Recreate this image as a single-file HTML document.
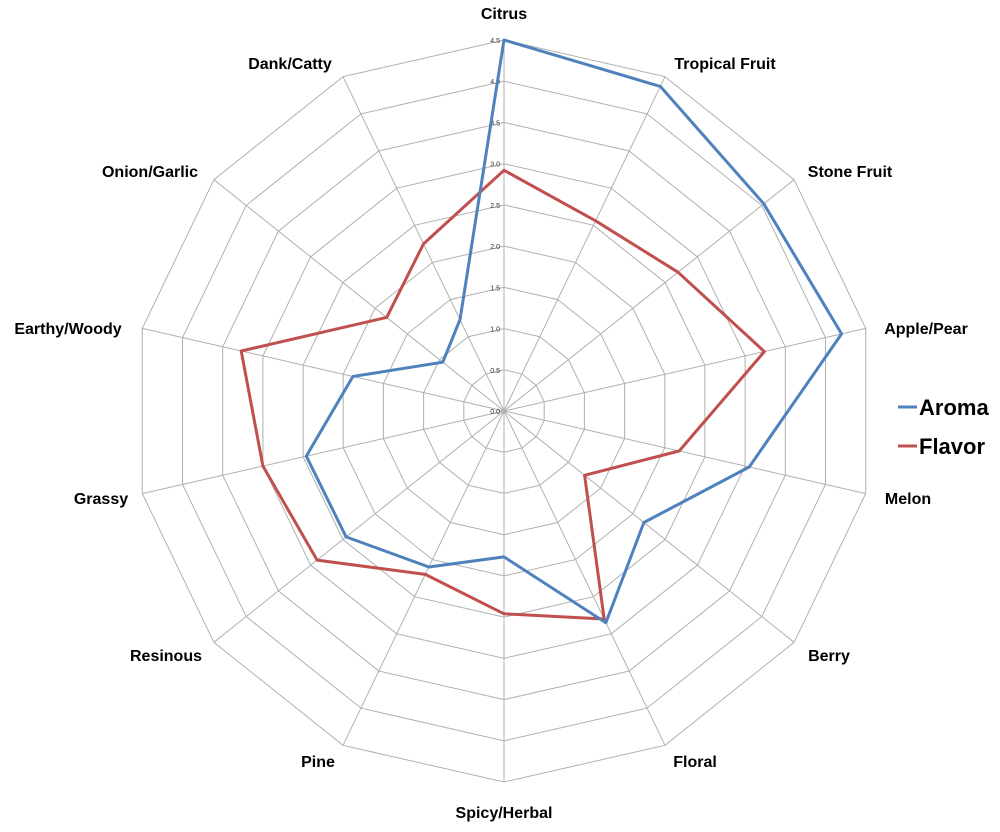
<!DOCTYPE html>
<html><head><meta charset="utf-8"><style>
html,body{margin:0;padding:0;background:#fff;}
svg{display:block;}
text{font-family:"Liberation Sans",sans-serif;}
</style></head><body>
<svg id="c" width="1000" height="832" viewBox="0 0 1000 832" xmlns="http://www.w3.org/2000/svg"></svg>
<script>
const cats=["Citrus","Tropical Fruit","Stone Fruit","Apple/Pear","Melon","Berry","Floral","Spicy/Herbal","Pine","Resinous","Grassy","Earthy/Woody","Onion/Garlic","Dank/Catty"];
const aroma=[4.5,4.37,4.03,4.2,3.05,2.17,2.85,1.77,2.1,2.45,2.46,1.88,0.95,1.23];
const flavor=[2.92,2.56,2.7,3.24,2.18,1.25,2.8,2.46,2.2,2.9,3.0,3.27,1.82,2.25];
const cx=504,cy=411,R=371,max=4.5,n=14;
const svg=document.getElementById('c');
let h='';
function pt(i,v){const a=i*2*Math.PI/n;const r=v/max*R;return [cx+r*Math.sin(a),cy-r*Math.cos(a)];}
for(let k=1;k<=9;k++){const v=k*0.5;let p=[];for(let i=0;i<n;i++)p.push(pt(i,v).map(x=>x.toFixed(1)).join(','));
h+=`<polygon points="${p.join(' ')}" fill="none" stroke="#b0b0b0" stroke-width="1"/>`;}
for(let i=0;i<n;i++){const p=pt(i,max);h+=`<line x1="${cx}" y1="${cy}" x2="${p[0].toFixed(1)}" y2="${p[1].toFixed(1)}" stroke="#b0b0b0" stroke-width="1"/>`;}
for(let k=0;k<=9;k++){const v=k*0.5;h+=`<text x="${cx-4}" y="${cy-v/max*R+3}" font-size="7" text-anchor="end" fill="#333">${v.toFixed(1)}</text>`;}
const lp=[[504,13,'middle'],[725,63,'middle'],[850,171,'middle'],[926,328,'middle'],[908,498,'middle'],[829,655,'middle'],[695,761,'middle'],[504,812,'middle'],[318,761,'middle'],[166,655,'middle'],[101,498,'middle'],[68,328,'middle'],[150,171,'middle'],[290,63,'middle']];
for(let i=0;i<n;i++){h+=`<text x="${lp[i][0]}" y="${lp[i][1]+6}" font-size="16" font-weight="bold" text-anchor="${lp[i][2]}" fill="#000">${cats[i]}</text>`;}
function poly(d,c){return `<polygon points="${d.map((v,i)=>pt(i,v).map(x=>x.toFixed(1)).join(',')).join(' ')}" fill="none" stroke="${c}" stroke-width="3" stroke-linejoin="round"/>`;}
h+=poly(flavor,'#c0504d');
h+=poly(aroma,'#4f81bd');
h+=`<line x1="898" y1="407" x2="917" y2="407" stroke="#4f81bd" stroke-width="3"/><text x="919" y="415" font-size="22" font-weight="bold">Aroma</text>`;
h+=`<line x1="898" y1="446" x2="917" y2="446" stroke="#c0504d" stroke-width="3"/><text x="919" y="454" font-size="22" font-weight="bold">Flavor</text>`;
svg.innerHTML=h;
</script>
</body></html>
